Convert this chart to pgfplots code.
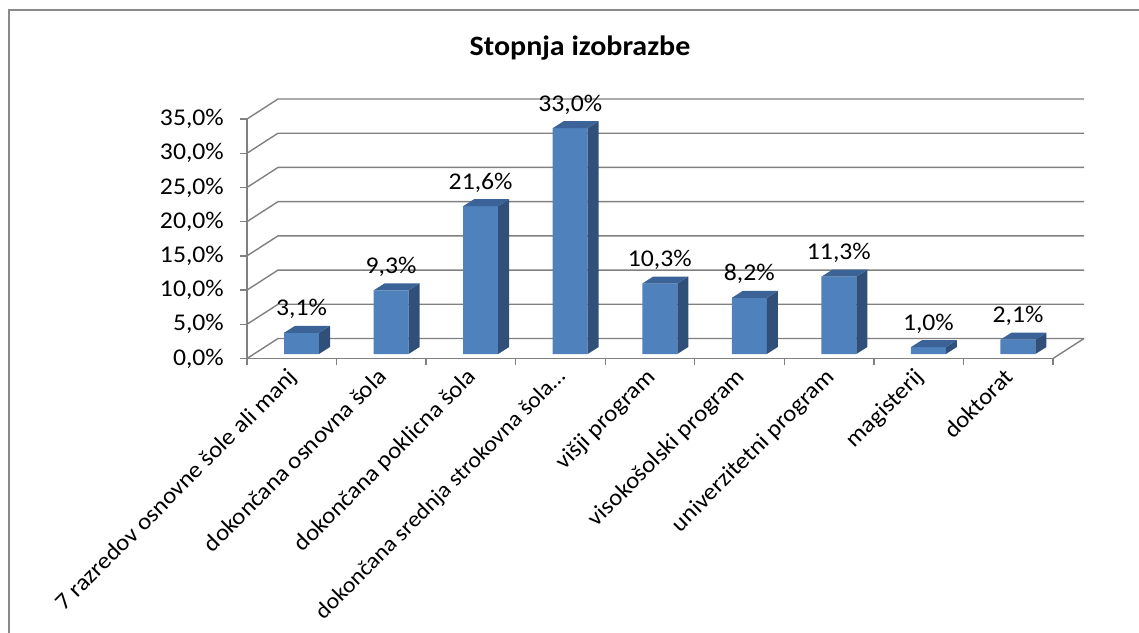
\documentclass[border=0pt]{standalone}
\usepackage{fontspec}
\setmainfont{Carlito}[FakeStretch=1.07]
\usepackage{pgfplots}
\pgfplotsset{compat=1.18}
\usepackage{pgfplotstable}
\pgfkeys{/pgf/number format/assume math mode=true}
\definecolor{barfront}{HTML}{4F81BD}
\definecolor{barside}{HTML}{30507A}
\definecolor{bartop}{HTML}{3B6398}
\definecolor{gridgray}{HTML}{808080}
\definecolor{framegray}{HTML}{8A8A8A}

\pgfplotstableread{
x v
0 3.1
1 9.3
2 21.6
3 33.0
4 10.3
5 8.2
6 11.3
7 1.0
8 2.1
}\datatable

\begin{document}
\begin{tikzpicture}
\useasboundingbox (0pt,0pt) rectangle (1139pt,632pt);
\draw[framegray, line width=2pt] (9pt,-3pt) -- (9pt,622pt) -- (1142pt,622pt);
\node[anchor=base, font=\bfseries\fontsize{28}{32}\selectfont] at (580pt,576pt) {Stopnja izobrazbe};
\begin{axis}[
  at={(247pt,273.5pt)}, anchor=south west,
  scale only axis, width=806pt, height=239.5pt,
  xmin=-0.5, xmax=8.5, ymin=0, ymax=35,
  clip=false,
  axis x line*=bottom, axis y line*=left,
  axis line style={gridgray, line width=1.4pt},
  tick align=outside,
  major tick length=7pt, minor tick length=6pt,
  every tick/.style={gridgray, line width=1.4pt},
  ytick={0,5,...,35},
  yticklabel={\pgfmathprintnumber[fixed,fixed zerofill,precision=1,use comma]{\tick}\%},
  yticklabel style={font=\fontsize{24}{28}\selectfont, anchor=east, inner sep=0pt, xshift=-16pt},
  xtick={0,...,8},
  xticklabels={7 razredov osnovne šole ali manj, dokončana osnovna šola, dokončana poklicna šola, {\fontsize{22.3}{26}\selectfont dokončana srednja strokovna šola…}, višji program, visokošolski program, univerzitetni program, magisterij, doktorat},
  major x tick style={draw=none},
  minor xtick={-0.5,0.5,...,8.5},
  xticklabel style={font=\fontsize{23.3}{28}\selectfont, inner sep=0pt, xshift=-5pt, yshift=-1pt, rotate=45, anchor=north east},
]
% back wall, side wall and floor lines
\pgfplotsinvokeforeach{0,5,...,35}{
  \pgfmathsetmacro\yy{#1+2.923}
  \edef\tmp{\noexpand\draw[gridgray, line width=1.4pt] (axis cs:-0.5,#1) -- (axis cs:-0.1539,\yy) -- (axis cs:8.8461,\yy);}
  \tmp
}
\draw[gridgray, line width=1.4pt] (axis cs:8.5,0) -- (axis cs:8.8461,2.923);
% front faces
\addplot[ybar, bar width=35pt, bar shift=9.75pt, fill=barfront, draw=none, yshift=4.5pt] table[x=x,y=v]{\datatable};
% side and top faces
\pgfplotsinvokeforeach{0,...,8}{
  \pgfplotstablegetelem{#1}{v}\of\datatable
  \pgfmathsetmacro\xl{#1-0.0865}
  \pgfmathsetmacro\xr{#1+0.3043}
  \pgfmathsetmacro\xrr{#1+0.3043+0.1228}
  \pgfmathsetmacro\xll{#1-0.0865+0.1228}
  \pgfmathsetmacro\yb{0.658}
  \pgfmathsetmacro\ybb{0.658+1.023}
  \pgfmathsetmacro\yt{\pgfplotsretval+0.658}
  \pgfmathsetmacro\ytt{\pgfplotsretval+0.658+1.023}
  \edef\tmp{\noexpand\addplot[fill=barside, draw=none] coordinates {(\xr,\yb) (\xrr,\ybb) (\xrr,\ytt) (\xr,\yt)};
   \noexpand\addplot[fill=bartop, draw=none] coordinates {(\xl,\yt) (\xr,\yt) (\xrr,\ytt) (\xll,\ytt)};}
  \tmp
}
% value labels
\addplot[draw=none, mark=none,
  nodes near coords={\pgfmathprintnumber[fixed,fixed zerofill,precision=1,use comma]{\pgfplotspointmeta}\%},
  point meta={\thisrow{v}},
  every node near coord/.append style={anchor=base, yshift=17pt, font=\fontsize{24}{28}\selectfont, inner sep=0pt, text=black}]
  table[x expr=\thisrow{x}+0.1089, y expr=\thisrow{v}+0.658]{\datatable};
\end{axis}
\end{tikzpicture}
\end{document}
